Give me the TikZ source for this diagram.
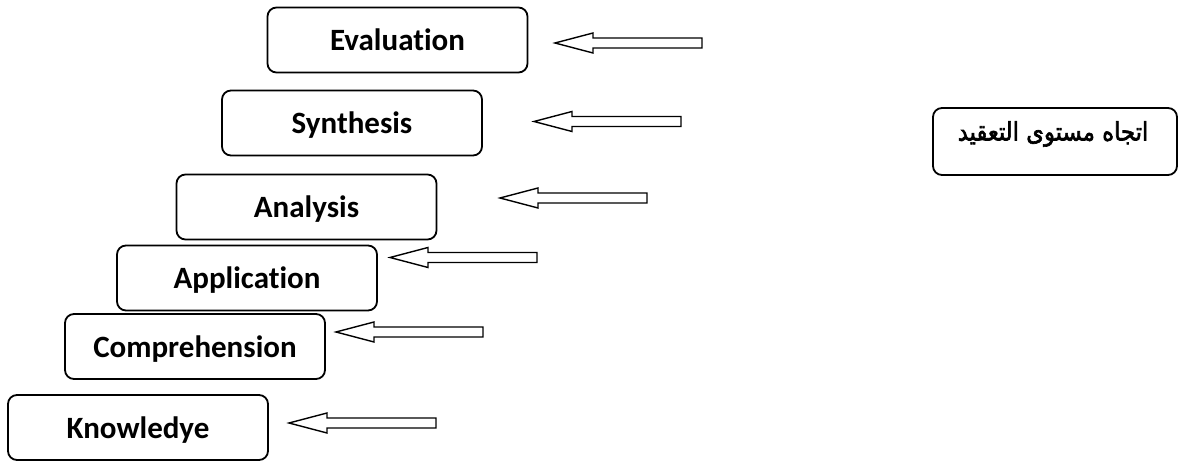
\documentclass[tikz,border=0pt]{standalone}
\usepackage{fontspec}
\setmainfont[Ligatures=NoCommon]{Carlito}
\newfontfamily\arabicfont[Script=Arabic,FakeBold=2.5]{DejaVu Sans}
\TeXXeTstate=1
\begin{document}
\begin{tikzpicture}[x=1pt,y=-1pt,
  level/.style={draw, line width=1.8pt, rounded corners=9pt, minimum width=260pt,
    minimum height=65pt, inner sep=0pt, text height=26pt, text depth=4pt,
    font=\fontsize{31}{31}\selectfont\bfseries},
  note/.style={draw, line width=1.8pt, rounded corners=9pt, minimum width=244pt,
    minimum height=67pt, inner sep=0pt},
  arrowline/.style={draw, line width=1.4pt, line join=miter, fill=white},
  leftarrow/.pic={\path[arrowline] (0,0) -- (38,-10) -- (38,-5) -- (147,-5)
    -- (147,5) -- (38,5) -- (38,10) -- cycle;}]
\useasboundingbox (0,0) rectangle (1179,462);

% the six levels, bottom to top
\node[level] (know)  at (138,427.5) {Knowledye};
\node[level] (comp)  at (195,346.5) {Comprehension};
\node[level] (appl)  at (247,278)   {Application};
\node[level] (anal)  at (306.5,207) {Analysis};
\node[level] (synth) at (352,123)   {Synthesis};
\node[level] (eval)  at (397.5,40)  {Evaluation};

% block arrows pointing at each level
\coordinate (k-tip) at (289,423);
\coordinate (c-tip) at (336,332);
\coordinate (p-tip) at (390,257.5);
\coordinate (a-tip) at (500,198);
\coordinate (s-tip) at (534,121.5);
\coordinate (e-tip) at (555,43);
\foreach \t in {k,c,p,a,s,e}
  \pic at (\t-tip) {leftarrow};

% direction of increasing complexity
\node[note] (dir) at (1055,141.5) {};
\node (dirtext) at (1053,134) {\scalebox{1}[1.12]{\arabicfont\fontsize{22.7}{22.7}\selectfont\beginR اتجاه مستوى التعقيد\endR}};
\end{tikzpicture}
\end{document}
